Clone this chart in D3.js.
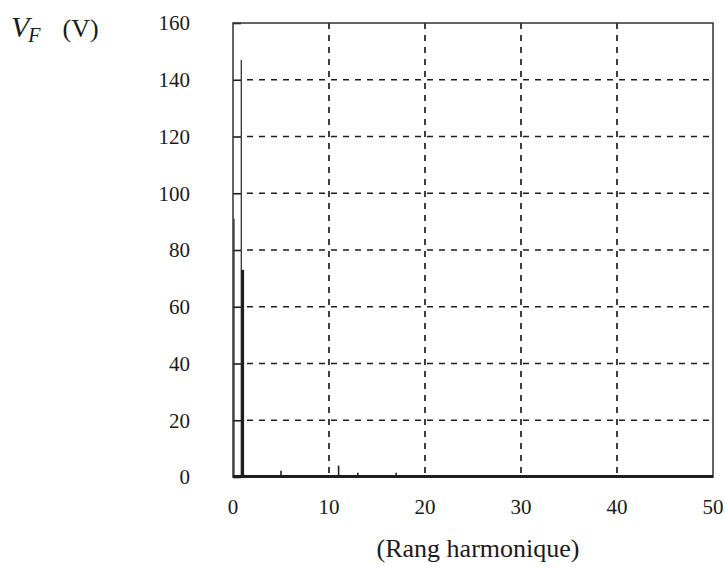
<!DOCTYPE html>
<html>
<head>
<meta charset="utf-8">
<script src="https://cdn.jsdelivr.net/npm/d3@7"></script>
<style>
  html, body { margin: 0; padding: 0; background: #fff; }
  svg { display: block; }
  text { font-family: "Liberation Serif", "DejaVu Serif", serif; fill: #1a1a1a; }
</style>
</head>
<body>
<svg id="chart" width="726" height="568"></svg>
<script>
// Harmonic spectrum of the voltage V_F
const thinRanks  = [0, 1];
const thinValues = [91, 147];
const thickRanks  = [1, 5, 11, 13, 17];
const thickValues = [73, 2.2, 4, 1.5, 1.5];
const xTicks = [0, 10, 20, 30, 40, 50];
const yTicks = [0, 20, 40, 60, 80, 100, 120, 140, 160];

const svg = d3.select("#chart");
const m = { left: 233, right: 713, top: 23, bottom: 477 };
const ink = "#1e1e1e";

const x = d3.scaleLinear().domain([0, 50]).range([m.left, m.right]);
const y = d3.scaleLinear().domain([0, 160]).range([m.bottom, m.top]);

// dashed grid
const grid = svg.append("g");
grid.selectAll("line.v").data(xTicks.filter(d => d > 0 && d < 50)).join("line")
  .attr("x1", d => x(d)).attr("x2", d => x(d))
  .attr("y1", m.top).attr("y2", m.bottom)
  .attr("stroke", ink).attr("stroke-width", 1.7).attr("stroke-dasharray", "6,6");
grid.selectAll("line.h").data(yTicks.filter(d => d > 0 && d < 160)).join("line")
  .attr("x1", m.left + 14).attr("x2", m.right)
  .attr("y1", d => y(d)).attr("y2", d => y(d))
  .attr("stroke", ink).attr("stroke-width", 1.7).attr("stroke-dasharray", "6,6");

// y axis with short inward ticks on the left edge
const yAxis = d3.axisRight(y).tickValues(yTicks).tickSize(8).tickFormat("");
const gy = svg.append("g").attr("transform", `translate(${m.left},0)`).call(yAxis);
gy.select(".domain").remove();
gy.selectAll(".tick line").attr("stroke", ink).attr("stroke-width", 1.6);

// y tick labels
svg.append("g").selectAll("text").data(yTicks).join("text")
  .attr("x", 190).attr("y", d => y(d)).attr("dy", "0.35em")
  .attr("text-anchor", "end").attr("font-size", 21)
  .text(d => d);

// x tick labels
svg.append("g").selectAll("text").data(xTicks).join("text")
  .attr("x", d => x(d)).attr("y", 514)
  .attr("text-anchor", "middle").attr("font-size", 21)
  .text(d => d);

// spectrum bars
const thinOffset = -1.3;
svg.append("g").selectAll("line").data(thinRanks.map((r, i) => [r, thinValues[i]])).join("line")
  .attr("x1", d => x(d[0]) + (d[0] === 0 ? 1 : thinOffset))
  .attr("x2", d => x(d[0]) + (d[0] === 0 ? 1 : thinOffset))
  .attr("y1", y(0)).attr("y2", d => y(d[1]))
  .attr("stroke", "#333").attr("stroke-width", 1.3);

svg.append("g").selectAll("line").data(thickRanks.map((r, i) => [r, thickValues[i]])).join("line")
  .attr("x1", d => x(d[0])).attr("x2", d => x(d[0]))
  .attr("y1", y(0)).attr("y2", d => y(d[1]))
  .attr("stroke", ink).attr("stroke-width", d => d[1] > 10 ? 3 : 1.6);

// frame
svg.append("rect")
  .attr("x", m.left).attr("y", m.top)
  .attr("width", m.right - m.left).attr("height", m.bottom - m.top)
  .attr("fill", "none").attr("stroke", "#333").attr("stroke-width", 1.5);
// heavy baseline
svg.append("line")
  .attr("x1", m.left).attr("x2", m.right)
  .attr("y1", y(0) - 0.5).attr("y2", y(0) - 0.5)
  .attr("stroke", ink).attr("stroke-width", 3.2);

// axis titles
const yt = svg.append("text").attr("x", 11).attr("y", 37).attr("font-size", 30);
yt.append("tspan").attr("font-style", "italic").text("V");
yt.append("tspan").attr("font-style", "italic").attr("font-size", 20).attr("dy", 5).attr("dx", -1).text("F");
yt.append("tspan").attr("dy", -5).attr("dx", 22).attr("font-size", 26).text("(V)");

svg.append("text")
  .attr("x", 478).attr("y", 557)
  .attr("text-anchor", "middle").attr("font-size", 26)
  .text("(Rang harmonique)");
</script>
</body>
</html>
